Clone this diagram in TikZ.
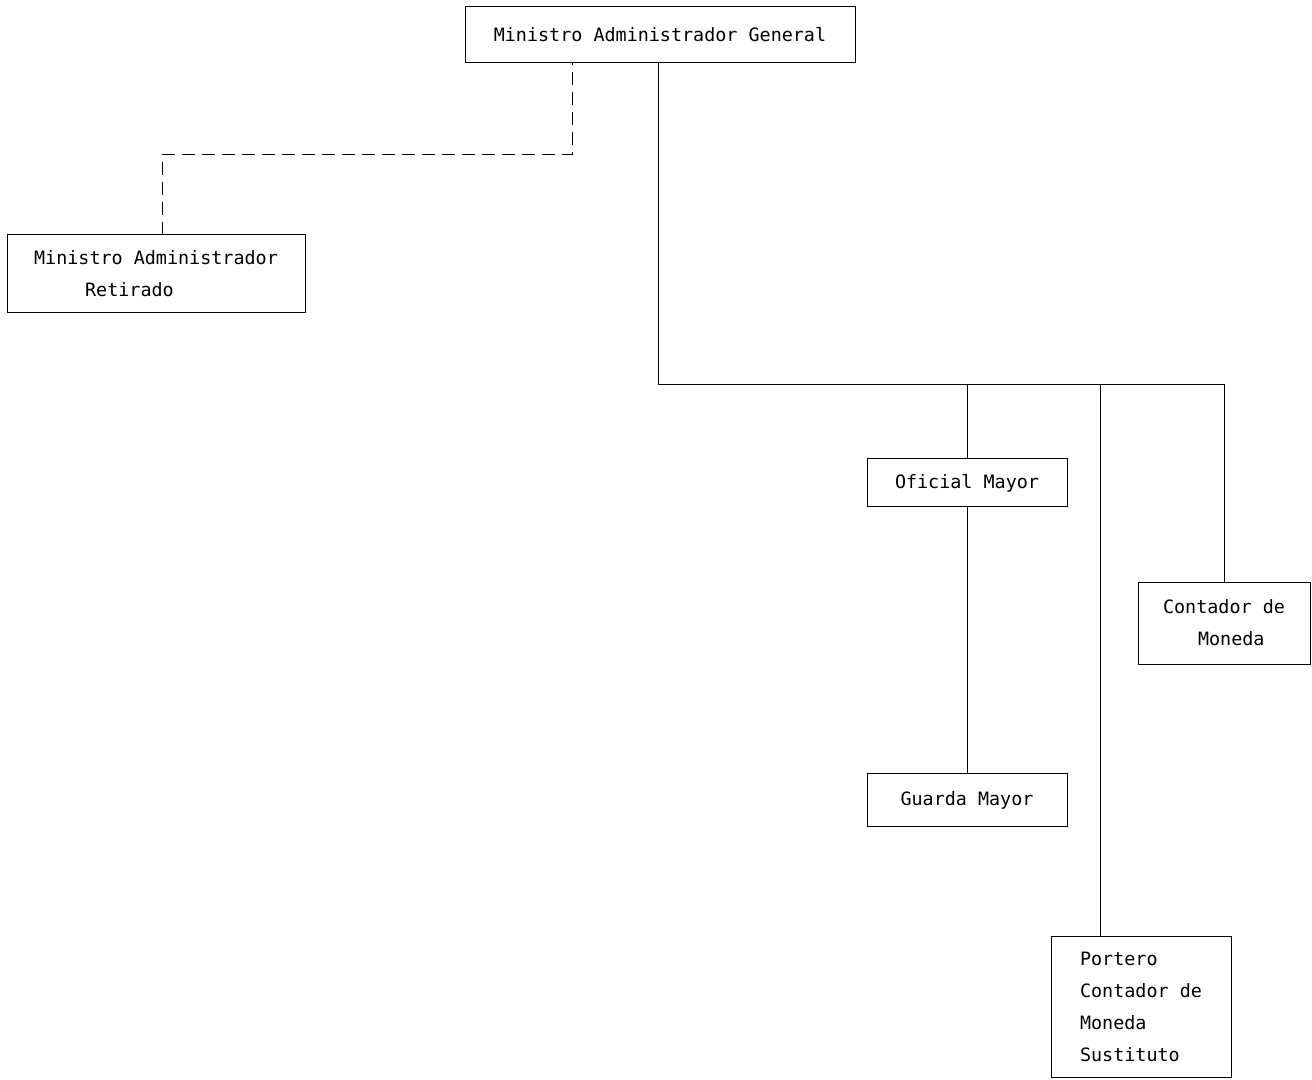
\documentclass[tikz,border=0pt]{standalone}
\usepackage{fontspec}
\setmonofont{DejaVu Sans Mono}
\usepackage{tikz}
\usetikzlibrary{positioning}

\begin{document}
\begin{tikzpicture}[x=0.5pt, y=-0.5pt, line width=0.5pt,
    cargo/.style={draw, inner sep=0pt, outer sep=0pt,
      font=\ttfamily\fontsize{9.2}{16}\selectfont},
    retiro/.style={dashed, dash pattern=on 6.5pt off 3.5pt}]
        \useasboundingbox (0,0) rectangle (1312,1080);

        \node[cargo, minimum width=195pt, minimum height=28pt] (mag) at (660,35) {Ministro Administrador General};
        \node[cargo, minimum width=149pt, minimum height=39pt, align=left] (mar) at (156,274)
          {Ministro Administrador\\\hspace*{25.5pt}Retirado};
        \node[cargo, minimum width=100pt, minimum height=24pt] (om) at (967,483) {Oficial Mayor};
        \node[cargo, minimum width=100pt, minimum height=26.5pt] (gm) at (967,800) {Guarda Mayor};
        \node[cargo, minimum width=86pt, minimum height=41pt, align=left] (cm) at (1224,623)
          {Contador de\\\hspace*{17.5pt}Moneda};
        \node[cargo, minimum width=90pt, minimum height=70.5pt, align=left] (pcm) at (1141,1006.5)
          {Portero\\Contador de\\Moneda\\Sustituto};

        % ramal punteado hacia el retirado
        \coordinate (dk) at (572,155);
        \draw[retiro] ([xshift=3pt]mar.north) |- (dk) -- (dk |- mag.south);

        % ramal principal
        \coordinate (bus) at (658,385);
        \coordinate (pt) at (1100,385);
        \draw (mag.south -| bus) -- (bus) -- (bus -| cm.north) -- (cm.north);
        \draw (bus -| om.north) -- (om.north);
        \draw (pt) -- (pt |- pcm.north);
        \draw (om) -- (gm);
      \end{tikzpicture}
\end{document}
